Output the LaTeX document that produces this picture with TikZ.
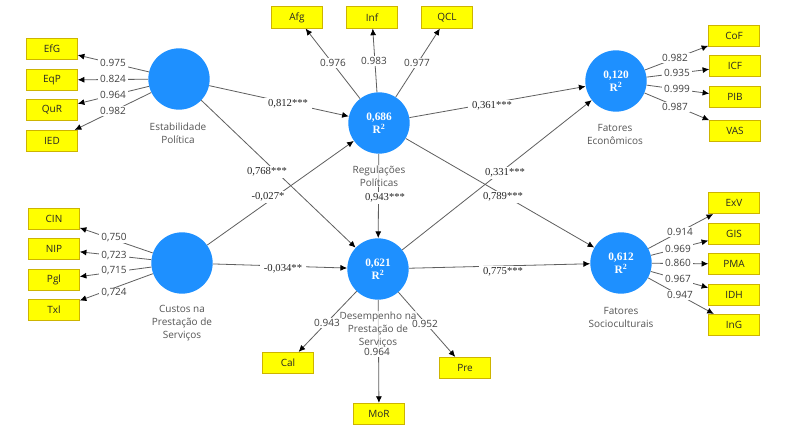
\documentclass[tikz,border=0pt]{standalone}
\usepackage{fontspec}
\setmainfont{Open Sans}
\newfontfamily\rfont{Liberation Serif}
\usetikzlibrary{arrows.meta}
\definecolor{lvblue}{RGB}{30,144,255}
\definecolor{boxyellow}{RGB}{255,255,0}
\definecolor{boxborder}{RGB}{205,180,0}
\definecolor{linegray}{RGB}{95,95,95}
\definecolor{txtgray}{RGB}{85,85,85}
\begin{document}
\begin{tikzpicture}[x=0.75pt,y=-0.75pt,
  lv/.style={circle, fill=lvblue, minimum size=46pt, inner sep=0pt, text=white,
    font=\rfont\bfseries\fontsize{8.5}{10}\selectfont, align=center},
  ind/.style={draw=boxborder, line width=0.6pt, fill=boxyellow, minimum width=38pt, minimum height=16pt,
    inner sep=0pt, font=\fontsize{7.5}{9}\selectfont, text=black!85},
  lvcap/.style={text=txtgray, font=\fontsize{7.5}{9.75}\selectfont, align=center,
    fill=white, fill opacity=0.75, text opacity=1, inner sep=0.5pt},
  lbl/.style={fill=white, inner xsep=1.5pt, inner ysep=0.8pt, text=black!75, font=\fontsize{7.5}{9}\selectfont},
  plbl/.style={fill=white, inner xsep=3pt, inner ysep=1pt, text=black!85, font=\rfont\fontsize{8}{9}\selectfont},
  conn/.style={draw=linegray, line width=0.6pt, -{Latex[length=5pt,width=4.5pt,color=black]}}]
\fill[white] (0,0) rectangle (806,431);
\path[use as bounding box] (0,0) rectangle (806,431);

% latent variables
\node[lv] (est) at (179,79) {};
\node[lv] (cus) at (182,263) {};
\node[lv] (reg) at (379,123) {0,686\\R\textsuperscript{2}};
\node[lv] (des) at (378,269) {0,621\\R\textsuperscript{2}};
\node[lv] (eco) at (616,81) {0,120\\R\textsuperscript{2}};
\node[lv] (soc) at (621,263) {0,612\\R\textsuperscript{2}};

% indicators
\node[ind] (EfG) at (52,49) {EfG};
\node[ind] (EqP) at (52,80) {EqP};
\node[ind] (QuR) at (52,110) {QuR};
\node[ind] (IED) at (52,141) {IED};
\node[ind] (CIN) at (54,219) {CIN};
\node[ind] (NIP) at (54,249) {NIP};
\node[ind] (Pgl) at (54,280) {Pgl};
\node[ind] (Txl) at (54,310) {Txl};
\node[ind] (Afg) at (297,17.5) {Afg};
\node[ind] (Inf) at (372,17.5) {Inf};
\node[ind] (QCL) at (447,17.5) {QCL};
\node[ind] (Cal) at (288,363) {Cal};
\node[ind] (MoR) at (379,414) {MoR};
\node[ind] (Pre) at (465,368) {Pre};
\node[ind] (CoF) at (734,36) {CoF};
\node[ind] (ICF) at (735,66) {ICF};
\node[ind] (PIB) at (735,97) {PIB};
\node[ind] (VAS) at (735,131) {VAS};
\node[ind] (ExV) at (734,203) {ExV};
\node[ind] (GIS) at (734,234) {GIS};
\node[ind] (PMA) at (734,264) {PMA};
\node[ind] (IDH) at (734,295) {IDH};
\node[ind] (InG) at (734,325) {InG};

% outer model
\foreach \a/\b in {est/EfG,est/EqP,est/QuR,est/IED,cus/CIN,cus/NIP,cus/Pgl,cus/Txl,
  reg/Afg,reg/Inf,reg/QCL,des/Cal,des/MoR,des/Pre,eco/CoF,eco/ICF,eco/PIB,eco/VAS,
  soc/ExV,soc/GIS,soc/PMA,soc/IDH,soc/InG}
  \draw[conn] (\a) -- (\b);

% inner model
\foreach \a/\b in {est/reg,est/des,cus/reg,cus/des,reg/des,reg/eco,reg/soc,des/eco,des/soc}
  \draw[conn] (\a) -- (\b);

% captions
\node[lvcap] (cest) at (178,133) {Estabilidade\\Política};
\node[lvcap] (ccus) at (182,323) {Custos na\\Prestação de\\Serviços};
\node[lvcap] (creg) at (379,176) {Regulações\\Políticas};
\node[lvcap] (cdes) at (378,329.5) {Desempenho na\\Prestação de\\Serviços};
\node[lvcap] (ceco) at (615,134.5) {Fatores\\Econômicos};
\node[lvcap] (csoc) at (621,317) {Fatores\\Socioculturais};

% outer loadings
\node[lbl] (l1) at (113,63) {0.975};
\node[lbl] (l2) at (113,79) {0.824};
\node[lbl] (l3) at (113,95) {0.964};
\node[lbl] (l4) at (113,111) {0.982};
\node[lbl] (l5) at (114,238) {0,750};
\node[lbl] (l6) at (114,256) {0,723};
\node[lbl] (l7) at (114,271) {0,715};
\node[lbl] (l8) at (114,293) {0,724};
\node[lbl] (l9) at (333,63) {0.976};
\node[lbl] (l10) at (374,61) {0.983};
\node[lbl] (l11) at (417,63) {0.977};
\node[lbl] (l12) at (327,323) {0.943};
\node[lbl] (l13) at (377,352) {0.964};
\node[lbl] (l14) at (425,324) {0.952};
\node[lbl] (l15) at (675,58) {0.982};
\node[lbl] (l16) at (677,73) {0.935};
\node[lbl] (l17) at (677,89) {0.999};
\node[lbl] (l18) at (675,107) {0.987};
\node[lbl] (l19) at (680,232) {0.914};
\node[lbl] (l20) at (678,249) {0.969};
\node[lbl] (l21) at (678,263) {0.860};
\node[lbl] (l22) at (678,279) {0.967};
\node[lbl] (l23) at (680,295) {0.947};

% path coefficients
\node[plbl] (p1) at (288,104) {0,812***};
\node[plbl] (p2) at (492,106) {0,361***};
\node[plbl] (p3) at (267,172) {0,768***};
\node[plbl] (p4) at (505,173) {0,331***};
\node[plbl] (p5) at (268,197) {-0,027*};
\node[plbl] (p6) at (385,198) {0,943***};
\node[plbl] (p7) at (503,197) {0,789***};
\node[plbl] (p8) at (283,269) {-0,034**};
\node[plbl] (p9) at (503,272) {0,775***};
\end{tikzpicture}
\end{document}
